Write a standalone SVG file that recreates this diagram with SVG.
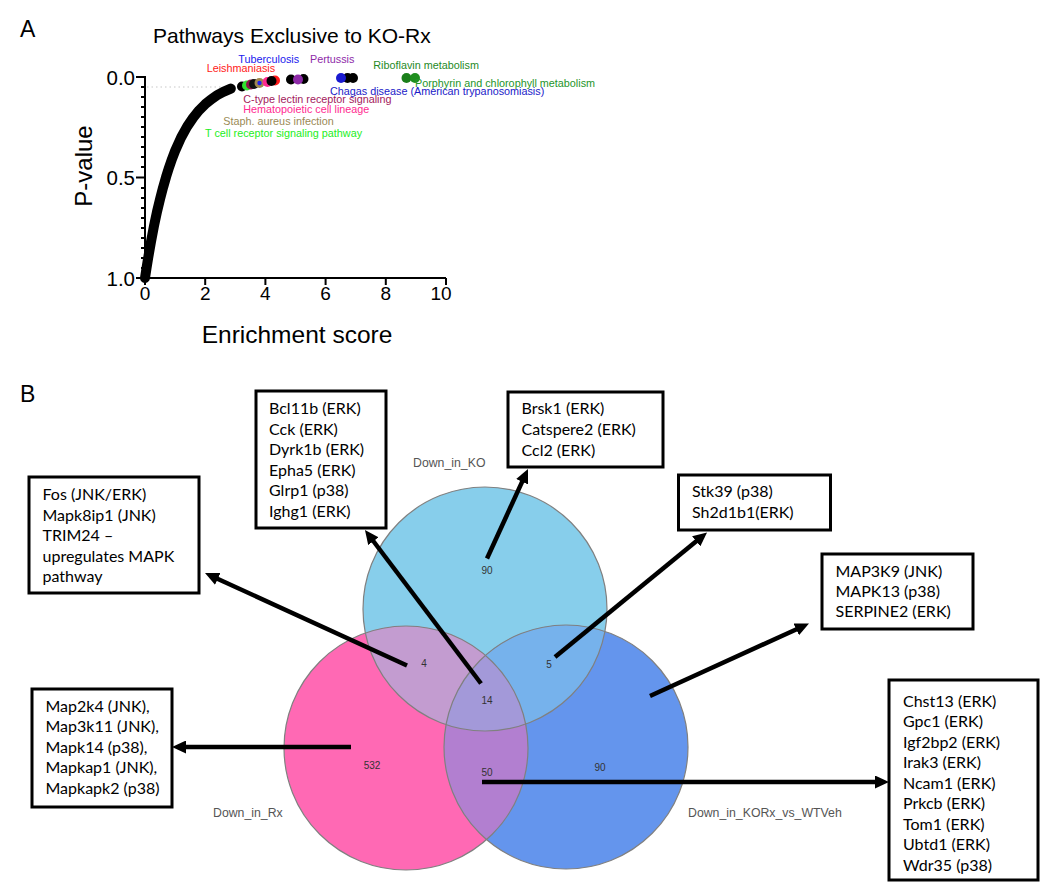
<svg xmlns="http://www.w3.org/2000/svg" width="1050" height="893" viewBox="0 0 1050 893">
<style>
.ax{font-family:"Liberation Sans",Arial,sans-serif;fill:#000}
.lbl{font-family:"Liberation Sans",Arial,sans-serif;font-size:10.8px}
.num{font-family:"Liberation Sans",Arial,sans-serif;font-size:10px;fill:#333;text-anchor:middle}
.set{font-family:"Liberation Sans",Arial,sans-serif;font-size:12.3px;fill:#555}
.box{fill:#fff;stroke:#000;stroke-width:3}
.bt{font-family:Lato,"Liberation Sans",sans-serif;font-size:16px;fill:#000}
.arr{stroke:#000;stroke-width:4.5;fill:none;marker-end:url(#ah)}
.circ{fill:none;stroke:#808080;stroke-width:1.2}
</style>
<defs>
<marker id="ah" markerUnits="userSpaceOnUse" markerWidth="14" markerHeight="13" viewBox="0 0 14 13" refX="4" refY="6.5" orient="auto">
<path d="M0,0 L14,6.5 L0,13 z" fill="#000"/>
</marker>
<clipPath id="cSky"><circle cx="485" cy="609" r="122"/></clipPath>
<clipPath id="cPink"><circle cx="406" cy="748" r="122"/></clipPath>
<clipPath id="cCorn"><circle cx="566" cy="747" r="122"/></clipPath>
</defs>
<rect width="1050" height="893" fill="#fff"/>

<g id="panelA">
<text class="ax" x="20" y="37" font-size="23">A</text>
<text class="ax" x="153" y="43" font-size="21">Pathways Exclusive to KO-Rx</text>
<line x1="147" y1="87" x2="240" y2="87" stroke="#c8c8c8" stroke-width="1.2" stroke-dasharray="1.5,3"/>
<g stroke="#000" stroke-width="2" fill="none">
<line x1="145" y1="76" x2="145" y2="279"/>
<line x1="144" y1="278" x2="446" y2="278"/>
<path d="M136,77H145M141,87H145M141,97H145M141,107H145M141,117H145M141,127H145M141,137H145M141,147H145M141,157H145M141,167H145M136,177.5H145M141,188H145M141,198H145M141,208H145M141,218H145M141,228H145M141,238H145M141,248H145M141,258H145M141,268H145M136,278H145"/>
<path d="M145,278V285M205.2,278V285M265.4,278V285M325.6,278V285M385.8,278V285M446,278V285"/>
</g>
<g class="ax" font-size="20.5" text-anchor="end">
<text x="135" y="85">0.0</text>
<text x="135" y="185">0.5</text>
<text x="135" y="286">1.0</text>
</g>
<g class="ax" font-size="19" text-anchor="middle">
<text x="145" y="300">0</text>
<text x="205.2" y="300">2</text>
<text x="265.4" y="300">4</text>
<text x="325.6" y="300">6</text>
<text x="385.8" y="300">8</text>
<text x="441" y="300">10</text>
</g>
<text class="ax" x="297" y="343" font-size="24.5" text-anchor="middle">Enrichment score</text>
<text class="ax" font-size="24" text-anchor="middle" transform="translate(92,166) rotate(-90)">P-value</text>
<path d="M145,278 L146.5,268.2 L148,258.9 L151,241.6 L154,225.9 L157,211.7 L160.1,198.9 L163.1,187.3 L166.1,176.8 L169.1,167.3 L172.1,158.7 L175.1,150.9 L181.1,137.5 L187.1,126.6 L193.2,117.6 L199.2,110.2 L205.2,104.2 L211.2,99.3 L217.2,95.2 L223.3,91.9 L230.8,88.6" fill="none" stroke="#000" stroke-width="10" stroke-linecap="round" stroke-linejoin="round"/>
<g stroke="none">
<circle cx="242" cy="86.5" r="5" fill="#000"/>
<circle cx="247" cy="85.5" r="5" fill="#2fe02f"/>
<circle cx="251" cy="84.5" r="5" fill="#8a1548"/>
<circle cx="254" cy="84" r="5" fill="#111"/>
<circle cx="259.5" cy="83" r="5" fill="#a08850"/>
<circle cx="259.5" cy="83" r="2.2" fill="#2222ee"/>
<circle cx="267.5" cy="82" r="5" fill="#ff2a90"/>
<circle cx="275" cy="80.5" r="5" fill="#ff1a1a"/>
<circle cx="271.5" cy="81" r="5" fill="#000"/>
<circle cx="291" cy="79.5" r="5" fill="#000"/>
<circle cx="303.5" cy="79" r="5" fill="#000"/>
<circle cx="298" cy="79.5" r="5" fill="#8e2aa8"/>
<circle cx="353" cy="78" r="5" fill="#000"/>
<circle cx="347.5" cy="78" r="5" fill="#000"/>
<circle cx="341" cy="78" r="5" fill="#1a1ad0"/>
<circle cx="406.5" cy="78" r="5" fill="#1a7f1a"/>
<circle cx="415" cy="78" r="5" fill="#1f8f1f"/>
</g>
<text class="lbl" x="238.3" y="62.5" fill="#2020ee">Tuberculosis</text>
<text class="lbl" x="310" y="62.5" fill="#8e2aa8">Pertussis</text>
<text class="lbl" x="206.7" y="72.3" fill="#ff2020">Leishmaniasis</text>
<text class="lbl" x="373.3" y="69" fill="#1f8a1f">Riboflavin metabolism</text>
<text class="lbl" x="415" y="86.7" fill="#24952a">Porphyrin and chlorophyll metabolism</text>
<text class="lbl" x="330" y="95" fill="#1a1ac8">Chagas disease (American trypanosomiasis)</text>
<text class="lbl" x="243.3" y="103.3" fill="#a31a5c">C-type lectin receptor signaling</text>
<text class="lbl" x="243.3" y="113.3" fill="#ff2a90">Hematopoietic cell lineage</text>
<text class="lbl" x="223.3" y="125" fill="#9a8a55">Staph. aureus infection</text>
<text class="lbl" x="205" y="137.3" fill="#22ee22">T cell receptor signaling pathway</text>
</g>

<text class="ax" x="20" y="402" font-size="23">B</text>

<g id="venn">
<circle cx="485" cy="609" r="122" fill="#87CEEB"/>
<circle cx="406" cy="748" r="122" fill="#FF69B4"/>
<circle cx="566" cy="747" r="122" fill="#6495ED"/>
<g clip-path="url(#cSky)"><circle cx="406" cy="748" r="122" fill="#C39CD0"/><circle cx="566" cy="747" r="122" fill="#76B2EC"/></g>
<g clip-path="url(#cPink)"><circle cx="566" cy="747" r="122" fill="#B27FD0"/></g>
<g clip-path="url(#cSky)"><g clip-path="url(#cPink)"><circle cx="566" cy="747" r="122" fill="#A399D9"/></g></g>
<circle class="circ" cx="485" cy="609" r="122"/>
<circle class="circ" cx="406" cy="748" r="122"/>
<circle class="circ" cx="566" cy="747" r="122"/>
<text class="num" x="487" y="573.5">90</text>
<text class="num" x="424" y="666.5">4</text>
<text class="num" x="487" y="703.5">14</text>
<text class="num" x="549" y="667.5">5</text>
<text class="num" x="372" y="768.5">532</text>
<text class="num" x="487" y="776">50</text>
<text class="num" x="600" y="770.5">90</text>
<text class="set" x="413" y="466.5">Down_in_KO</text>
<text class="set" x="213" y="816.5">Down_in_Rx</text>
<text class="set" x="688" y="817">Down_in_KORx_vs_WTVeh</text>
</g>

<g id="box-bcl11b">
<rect class="box" x="256" y="391" width="130" height="137"/>
<text class="bt" x="269" y="414">Bcl11b (ERK)</text>
<text class="bt" x="269" y="434.5">Cck (ERK)</text>
<text class="bt" x="269" y="455">Dyrk1b (ERK)</text>
<text class="bt" x="269" y="475.5">Epha5 (ERK)</text>
<text class="bt" x="269" y="496">Glrp1 (p38)</text>
<text class="bt" x="269" y="516.5">Ighg1 (ERK)</text>
</g>
<g id="box-fos">
<rect class="box" x="29" y="477" width="170" height="116"/>
<text class="bt" x="42.5" y="500">Fos (JNK/ERK)</text>
<text class="bt" x="42.5" y="520.5">Mapk8ip1 (JNK)</text>
<text class="bt" x="42.5" y="541">TRIM24 –</text>
<text class="bt" x="42.5" y="561.5">upregulates MAPK</text>
<text class="bt" x="42.5" y="582">pathway</text>
</g>
<g id="box-brsk1">
<rect class="box" x="508" y="392" width="155" height="75"/>
<text class="bt" x="521.5" y="414">Brsk1 (ERK)</text>
<text class="bt" x="521.5" y="435">Catspere2 (ERK)</text>
<text class="bt" x="521.5" y="455.5">Ccl2 (ERK)</text>
</g>
<g id="box-stk39">
<rect class="box" x="678.5" y="475" width="152" height="55"/>
<text class="bt" x="692" y="496.5">Stk39 (p38)</text>
<text class="bt" x="692" y="518">Sh2d1b1(ERK)</text>
</g>
<g id="box-map3k9">
<rect class="box" x="822" y="554" width="151" height="75"/>
<text class="bt" x="835.5" y="576.5">MAP3K9 (JNK)</text>
<text class="bt" x="835.5" y="597">MAPK13 (p38)</text>
<text class="bt" x="835.5" y="617">SERPINE2 (ERK)</text>
</g>
<g id="box-chst13">
<rect class="box" x="889" y="680" width="149" height="200"/>
<text class="bt" x="903" y="706.5">Chst13 (ERK)</text>
<text class="bt" x="903" y="727">Gpc1 (ERK)</text>
<text class="bt" x="903" y="747.5">Igf2bp2 (ERK)</text>
<text class="bt" x="903" y="768">Irak3 (ERK)</text>
<text class="bt" x="903" y="788.5">Ncam1 (ERK)</text>
<text class="bt" x="903" y="809">Prkcb (ERK)</text>
<text class="bt" x="903" y="829.5">Tom1 (ERK)</text>
<text class="bt" x="903" y="850">Ubtd1 (ERK)</text>
<text class="bt" x="903" y="870.5">Wdr35 (p38)</text>
</g>
<g id="box-map2k4">
<rect class="box" x="32" y="689" width="140" height="118"/>
<text class="bt" x="45.5" y="711.5">Map2k4 (JNK),</text>
<text class="bt" x="45.5" y="732">Map3k11 (JNK),</text>
<text class="bt" x="45.5" y="752.5">Mapk14 (p38),</text>
<text class="bt" x="45.5" y="773">Mapkap1 (JNK),</text>
<text class="bt" x="45.5" y="793.5">Mapkapk2 (p38)</text>
</g>

<g id="connectors">
<line class="arr" x1="407" y1="665.5" x2="214.1" y2="577.2"/>
<line class="arr" x1="481" y1="683.5" x2="371" y2="538"/>
<line class="arr" x1="487" y1="558.5" x2="523.8" y2="478.1"/>
<line class="arr" x1="555" y1="657" x2="699.3" y2="538.8"/>
<line class="arr" x1="650" y1="696" x2="799.9" y2="627.7"/>
<line class="arr" x1="482" y1="782" x2="879" y2="782"/>
<line class="arr" x1="351" y1="747" x2="182" y2="747"/>
</g>
</svg>
